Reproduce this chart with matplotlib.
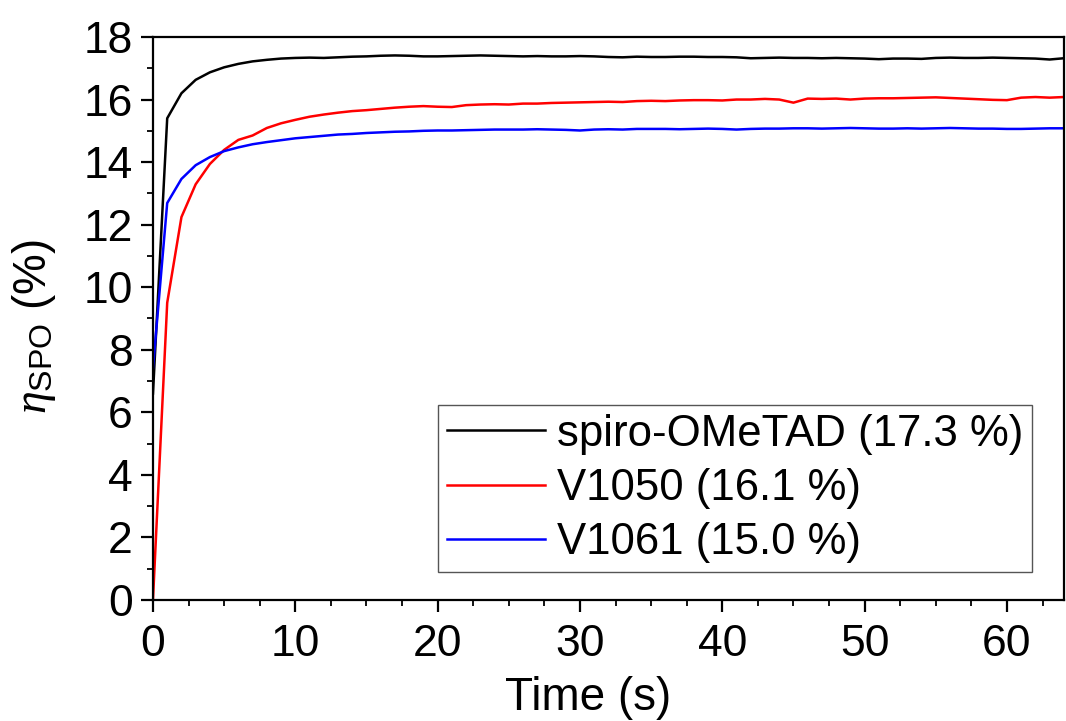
import matplotlib
matplotlib.use("Agg")
import matplotlib.pyplot as plt
from matplotlib.ticker import MultipleLocator

plt.rcParams['font.family'] = ['Liberation Sans', 'DejaVu Sans']
plt.rcParams['mathtext.fontset'] = 'custom'
plt.rcParams['mathtext.rm'] = 'Liberation Sans'
plt.rcParams['mathtext.it'] = 'Liberation Serif:italic'

time_s = list(range(0, 65))

spiro = [6.6, 15.4, 16.2, 16.63, 16.87, 17.03, 17.14, 17.22, 17.27, 17.31,
         17.33, 17.34, 17.33, 17.35, 17.37, 17.38, 17.40, 17.41, 17.40, 17.38,
         17.38, 17.39, 17.40, 17.41, 17.40, 17.39, 17.38, 17.39, 17.38, 17.38,
         17.39, 17.38, 17.36, 17.35, 17.37, 17.36, 17.36, 17.37, 17.37, 17.36,
         17.36, 17.35, 17.32, 17.33, 17.34, 17.33, 17.33, 17.32, 17.33, 17.32,
         17.31, 17.29, 17.31, 17.31, 17.30, 17.33, 17.34, 17.33, 17.33, 17.34,
         17.33, 17.32, 17.31, 17.28, 17.32]

v1050 = [0.0, 9.5, 12.24, 13.29, 13.94, 14.39, 14.71, 14.85, 15.09, 15.24,
         15.35, 15.45, 15.52, 15.58, 15.63, 15.66, 15.70, 15.74, 15.77, 15.79,
         15.77, 15.76, 15.82, 15.84, 15.85, 15.84, 15.87, 15.87, 15.89, 15.90,
         15.91, 15.92, 15.93, 15.92, 15.95, 15.96, 15.95, 15.97, 15.98, 15.98,
         15.97, 16.00, 16.00, 16.02, 16.00, 15.90, 16.03, 16.02, 16.03, 16.00,
         16.03, 16.04, 16.04, 16.05, 16.06, 16.07, 16.05, 16.03, 16.01, 15.99,
         15.98, 16.06, 16.08, 16.06, 16.08]

v1061 = [7.41, 12.69, 13.46, 13.90, 14.16, 14.35, 14.47, 14.57, 14.64, 14.70,
         14.76, 14.80, 14.84, 14.88, 14.90, 14.93, 14.95, 14.97, 14.98, 15.00,
         15.01, 15.01, 15.02, 15.03, 15.04, 15.04, 15.04, 15.05, 15.04, 15.03,
         15.01, 15.04, 15.05, 15.04, 15.06, 15.06, 15.06, 15.05, 15.06, 15.07,
         15.06, 15.04, 15.06, 15.07, 15.07, 15.08, 15.08, 15.07, 15.08, 15.09,
         15.08, 15.07, 15.07, 15.08, 15.07, 15.08, 15.09, 15.08, 15.07, 15.07,
         15.06, 15.06, 15.07, 15.08, 15.08]

labels = ["spiro-OMeTAD (17.3 %)", "V1050 (16.1 %)", "V1061 (15.0 %)"]
colors = ["black", "#ff0000", "#0000ff"]

fig = plt.figure(figsize=(10.66, 7.21), dpi=100)
ax = fig.add_axes([0.1435, 0.168, 0.8545, 0.7807])

for series, lab, col in zip([spiro, v1050, v1061], labels, colors):
    ax.plot(time_s, series, color=col, lw=1.8, label=lab)

ax.set_xlim(0, 64)
ax.set_ylim(0, 18)
ax.xaxis.set_major_locator(MultipleLocator(10))
ax.xaxis.set_minor_locator(MultipleLocator(2.5))
ax.yaxis.set_major_locator(MultipleLocator(2))
ax.yaxis.set_minor_locator(MultipleLocator(1))

ax.tick_params(which='major', direction='out', length=8.5, width=1.6,
               labelsize=32)
ax.tick_params(which='minor', direction='out', length=4.5, width=1.3)
ax.tick_params(axis='x', which='major', pad=9)
ax.tick_params(axis='y', which='major', pad=6)
ax.tick_params(top=False, right=False, which='both')
for sp in ax.spines.values():
    sp.set_linewidth(1.6)

ax.set_xlabel("Time (s)", fontsize=33)
ax.xaxis.set_label_coords(0.4775, -0.135)
ax.set_ylabel(r"$\mathit{\eta}_{\mathrm{SPO}}$ (%)", fontsize=33)
ax.yaxis.set_label_coords(-0.104, 0.485)

leg = ax.legend(loc='lower right', bbox_to_anchor=(0.965, 0.05),
                fontsize=31.5, frameon=True, fancybox=False, framealpha=1,
                edgecolor='#555555', handlelength=2.25, handletextpad=0.26,
                borderpad=0.2, labelspacing=0.3, borderaxespad=0)
leg.get_frame().set_linewidth(1.0)

fig.savefig("out.png", dpi=100)
